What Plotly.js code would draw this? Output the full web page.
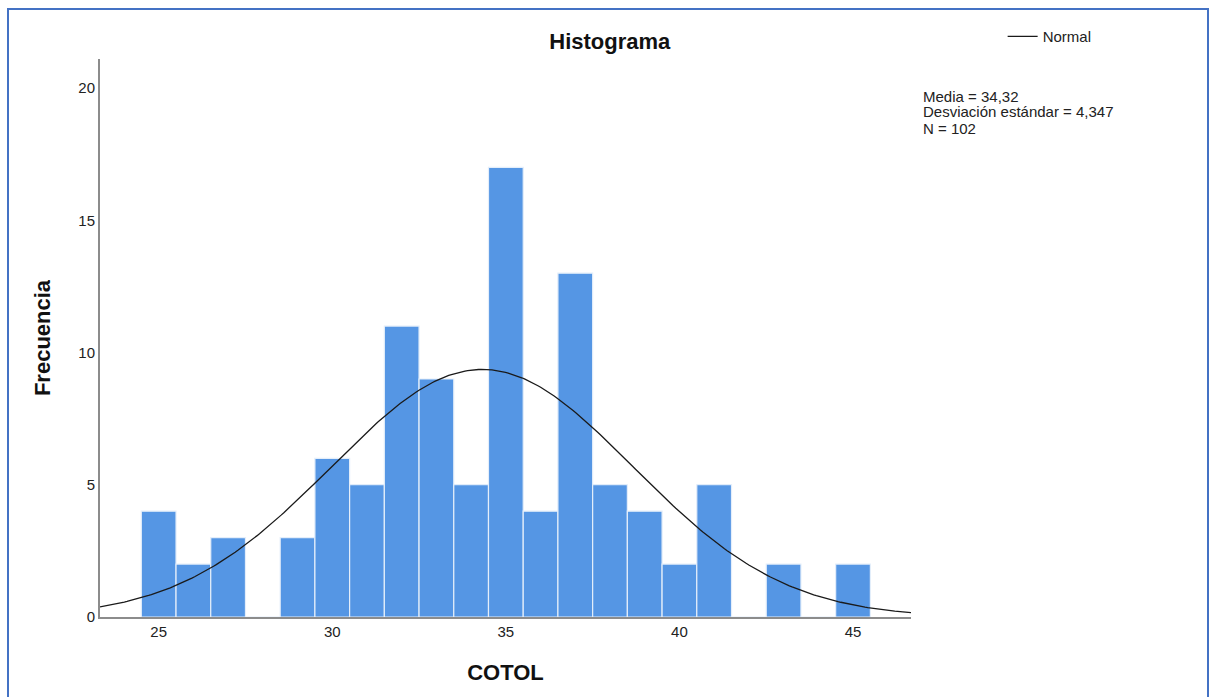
<!DOCTYPE html>
<html>
<head>
<meta charset="utf-8">
<script src="https://cdn.plot.ly/plotly-3.0.1.min.js"></script>
<style>
  html, body { margin: 0; padding: 0; background: #fff; }
  #wrap { position: relative; width: 1210px; height: 697px; overflow: hidden; }
  #chart { position: absolute; left: 0; top: 0; width: 1210px; height: 697px; }
  #frame { position: absolute; left: 7px; top: 8px; width: 1198px; height: 700px;
           border: 2px solid #4472C4; pointer-events: none; }
</style>
</head>
<body>
<div id="wrap">
  <div id="chart"></div>
  <div id="frame"></div>
</div>
<script>
// Data (bin width 1, centred on integers)
const binCenters = [25, 26, 27, 28, 29, 30, 31, 32, 33, 34, 35, 36, 37, 38, 39, 40, 41, 42, 43, 44, 45];
const frequencies = [4, 2, 3, 0, 3, 6, 5, 11, 9, 5, 17, 4, 13, 5, 4, 2, 5, 0, 2, 0, 2];
const xTickVals = [25, 30, 35, 40, 45];
const yTickVals = [0, 5, 10, 15, 20];

// Summary statistics shown on the chart
const meanValue = 34.32;
const stdDev = 4.347;
const nCases = 102;
const binWidth = 1;
const statLines = [
  'Media = ' + String(meanValue).replace('.', ','),
  'Desviación estándar = ' + String(stdDev).replace('.', ','),
  'N = ' + nCases
];

// Normal curve defined by the displayed statistics
const xMin = 23.31, xMax = 46.67;
const curveX = [];
const curveY = [];
for (let i = 0; i <= 300; i++) {
  const x = xMin + (xMax - xMin) * i / 300;
  const z = (x - meanValue) / stdDev;
  curveX.push(x);
  curveY.push(nCases * binWidth / (stdDev * Math.sqrt(2 * Math.PI)) * Math.exp(-0.5 * z * z));
}

const font = 'Liberation Sans, Arial, sans-serif';

const traces = [
  {
    type: 'bar',
    x: binCenters,
    y: frequencies,
    width: binWidth,
    marker: { color: '#5596E4', line: { color: '#E4EEFA', width: 1.2 } },
    showlegend: false,
    hoverinfo: 'x+y'
  },
  {
    type: 'scatter',
    mode: 'lines',
    x: curveX,
    y: curveY,
    name: 'Normal',
    line: { color: '#1a1a1a', width: 1.3 },
    showlegend: true
  }
];

// stats annotation rows, pixel-centre targets 95, 111, 127 in a plot area 59..617
const statAnnotations = statLines.map((t, i) => ({
  xref: 'paper', yref: 'paper',
  x: 1.0125, y: (617 - (96 + 16 * i)) / 558,
  xanchor: 'left', yanchor: 'middle', align: 'left',
  showarrow: false,
  text: t,
  font: { family: font, size: 15, color: '#222' }
}));

const layout = {
  width: 1210,
  height: 697,
  paper_bgcolor: '#ffffff',
  plot_bgcolor: '#ffffff',
  margin: { l: 100, r: 299, t: 59, b: 80 },
  font: { family: font, size: 15, color: '#222' },
  title: {
    text: '<b>Histograma</b>',
    x: 0.504, xref: 'container', xanchor: 'center',
    y: 0.941, yref: 'container', yanchor: 'middle',
    font: { family: font, size: 22, color: '#111' }
  },
  bargap: 0,
  xaxis: {
    range: [xMin, xMax],
    tickvals: xTickVals,
    ticktext: xTickVals.map(String),
    showgrid: false,
    zeroline: false,
    showline: true,
    linecolor: '#8c8c8c',
    linewidth: 2,
    ticks: '',
    tickfont: { family: font, size: 15, color: '#222' },
    title: { text: '<b>COTOL</b>', font: { family: font, size: 22, color: '#111' }, standoff: 26 }
  },
  yaxis: {
    range: [0, 21.1],
    tickvals: yTickVals,
    ticktext: yTickVals.map(String),
    showgrid: false,
    zeroline: false,
    showline: true,
    linecolor: '#8c8c8c',
    linewidth: 2,
    ticks: '',
    tickfont: { family: font, size: 15, color: '#222' },
    title: { text: '<b>Frecuencia</b>', font: { family: font, size: 22, color: '#111' }, standoff: 22 }
  },
  showlegend: true,
  legend: {
    x: 1.113, xref: 'paper', xanchor: 'left',
    y: 1.04, yref: 'paper', yanchor: 'middle',
    bgcolor: 'rgba(0,0,0,0)',
    borderwidth: 0,
    font: { family: font, size: 15, color: '#222' },
    itemwidth: 30
  },
  annotations: statAnnotations
};

Plotly.newPlot('chart', traces, layout, { displayModeBar: false, staticPlot: true });
</script>
</body>
</html>
